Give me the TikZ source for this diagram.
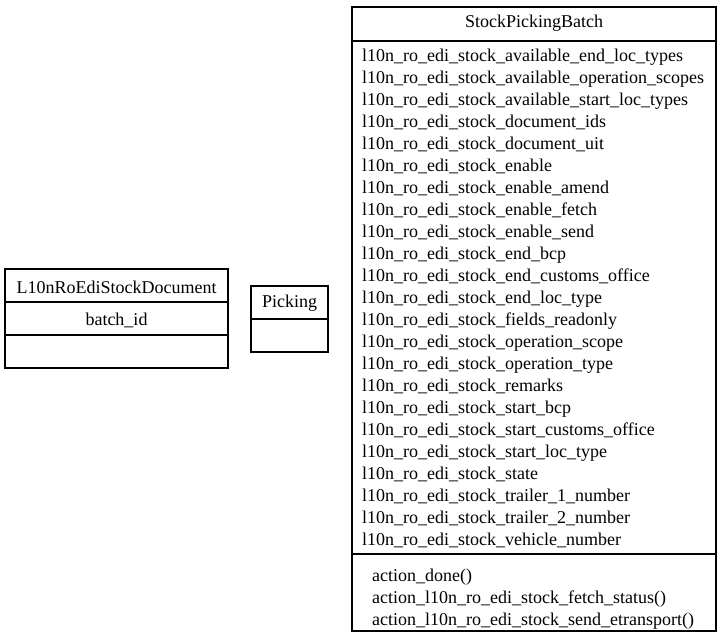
\documentclass[tikz,border=0pt]{standalone}
\usepackage{fontspec}
\setmainfont{Liberation Serif}
\begin{document}
\begin{tikzpicture}[x=1pt,y=-1pt,
  box/.style={draw=black,line width=1.1pt,fill=white},
  sep/.style={draw=black,line width=1.1pt},
  txt/.style={inner sep=0pt,font=\fontsize{18}{22}\selectfont},
  attr/.style={txt,anchor=base west}]
\useasboundingbox (0,0) rectangle (721,638);
% StockPickingBatch
\path[box] (352,7) rectangle (716,631);
\coordinate (sa) at (352,41); \coordinate (sb) at (716,41);
\coordinate (sc) at (352,554); \coordinate (sd) at (716,554);
\draw[sep] (sa) -- (sb);
\draw[sep] (sc) -- (sd);
\node[txt] (spb) at (534,23) {StockPickingBatch};
\foreach \t [count=\i] in {
 l10n\_ro\_edi\_stock\_available\_end\_loc\_types,
 l10n\_ro\_edi\_stock\_available\_operation\_scopes,
 l10n\_ro\_edi\_stock\_available\_start\_loc\_types,
 l10n\_ro\_edi\_stock\_document\_ids,
 l10n\_ro\_edi\_stock\_document\_uit,
 l10n\_ro\_edi\_stock\_enable,
 l10n\_ro\_edi\_stock\_enable\_amend,
 l10n\_ro\_edi\_stock\_enable\_fetch,
 l10n\_ro\_edi\_stock\_enable\_send,
 l10n\_ro\_edi\_stock\_end\_bcp,
 l10n\_ro\_edi\_stock\_end\_customs\_office,
 l10n\_ro\_edi\_stock\_end\_loc\_type,
 l10n\_ro\_edi\_stock\_fields\_readonly,
 l10n\_ro\_edi\_stock\_operation\_scope,
 l10n\_ro\_edi\_stock\_operation\_type,
 l10n\_ro\_edi\_stock\_remarks,
 l10n\_ro\_edi\_stock\_start\_bcp,
 l10n\_ro\_edi\_stock\_start\_customs\_office,
 l10n\_ro\_edi\_stock\_start\_loc\_type,
 l10n\_ro\_edi\_stock\_state,
 l10n\_ro\_edi\_stock\_trailer\_1\_number,
 l10n\_ro\_edi\_stock\_trailer\_2\_number,
 l10n\_ro\_edi\_stock\_vehicle\_number}
 {\node[attr] (at\i) at (362,{61+22*(\i-1)}) {\t};}
\foreach \t [count=\i] in {
 action\_done(),
 action\_l10n\_ro\_edi\_stock\_fetch\_status(),
 action\_l10n\_ro\_edi\_stock\_send\_etransport()}
 {\node[attr] (m\i) at (372,{581+22*(\i-1)}) {\t};}
% L10nRoEdiStockDocument
\path[box] (5,269) rectangle (228,368);
\coordinate (la) at (5,302); \coordinate (lb) at (228,302);
\coordinate (lc) at (5,335); \coordinate (ld) at (228,335);
\draw[sep] (la) -- (lb);
\draw[sep] (lc) -- (ld);
\node[txt] (doc) at (116.5,287) {L10nRoEdiStockDocument};
\node[txt] (bid) at (116.5,320) {batch\_id};
% Picking
\path[box] (251,286) rectangle (328,352);
\coordinate (pa) at (251,319); \coordinate (pb) at (328,319);
\draw[sep] (pa) -- (pb);
\node[txt] (pick) at (289.5,303) {Picking};
\end{tikzpicture}
\end{document}
